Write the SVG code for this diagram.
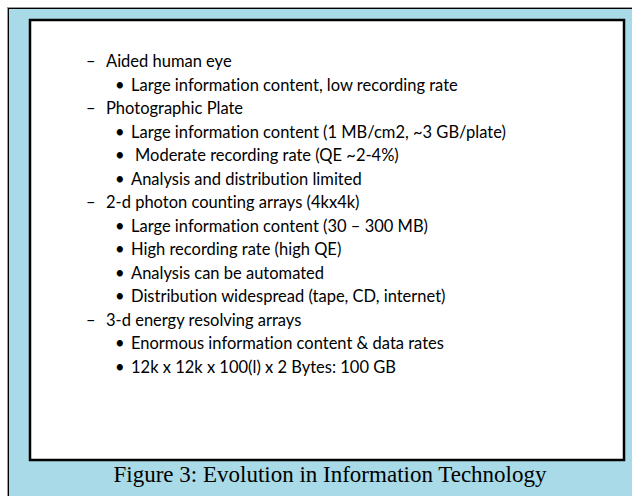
<svg xmlns="http://www.w3.org/2000/svg" width="632" height="496" viewBox="0 0 632 496">
<style>
.t{font-family:Lato,"Noto Sans",sans-serif;font-size:16.5px;fill:#000;font-variant-ligatures:none;font-feature-settings:"liga" 0,"clig" 0}
.cap{font-family:"Liberation Serif","Times New Roman",serif;font-size:23px;fill:#000}
</style>
<rect x="0" y="0" width="632" height="496" fill="#ffffff"/>
<rect x="8" y="8" width="624" height="488" fill="#a8dbe7"/>
<line x1="7.5" y1="7" x2="7.5" y2="496" stroke="#9a9a9a" stroke-width="1"/>
<line x1="8.5" y1="8" x2="8.5" y2="496" stroke="#000" stroke-width="1"/>
<line x1="7" y1="7.5" x2="632" y2="7.5" stroke="#9a9a9a" stroke-width="1"/>
<line x1="8" y1="8.5" x2="632" y2="8.5" stroke="#000" stroke-width="1"/>
<g id="panel">
<rect x="30" y="20" width="594" height="440" fill="#ffffff" stroke="#000" stroke-width="2.5"/>
</g>
<g id="list" class="t">
<text x="86" y="67">–</text><text x="106" y="67">Aided human eye</text>
<text x="115" y="90.5">•</text><text x="131" y="90.5">Large information content, low recording rate</text>
<text x="86" y="114">–</text><text x="106" y="114">Photographic Plate</text>
<text x="115" y="137.5">•</text><text x="131" y="137.5">Large information content (1 MB/cm2, ~3 GB/plate)</text>
<text x="115" y="161">•</text><text x="135" y="161">Moderate recording rate (QE ~2-4%)</text>
<text x="115" y="184.5">•</text><text x="131" y="184.5">Analysis and distribution limited</text>
<text x="86" y="208">–</text><text x="106" y="208">2-d photon counting arrays (4kx4k)</text>
<text x="115" y="231.5">•</text><text x="131" y="231.5">Large information content (30 – 300 MB)</text>
<text x="115" y="255">•</text><text x="131" y="255">High recording rate (high QE)</text>
<text x="115" y="278.5">•</text><text x="131" y="278.5">Analysis can be automated</text>
<text x="115" y="302">•</text><text x="131" y="302">Distribution widespread (tape, CD, internet)</text>
<text x="86" y="325.5">–</text><text x="106" y="325.5">3-d energy resolving arrays</text>
<text x="115" y="349">•</text><text x="131" y="349">Enormous information content &amp; data rates</text>
<text x="115" y="372.5">•</text><text x="131" y="372.5">12k x 12k x 100(l) x 2 Bytes: 100 GB</text>
</g>
<g id="caption">
<text class="cap" x="330" y="482" text-anchor="middle">Figure 3: Evolution in Information Technology</text>
</g>
</svg>
